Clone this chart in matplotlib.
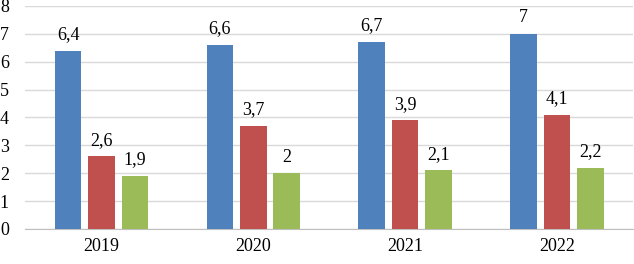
import numpy as np
import matplotlib.pyplot as plt

years = ["2019", "2020", "2021", "2022"]
blue_vals = [6.4, 6.6, 6.7, 7.0]
red_vals = [2.6, 3.7, 3.9, 4.1]
green_vals = [1.9, 2.0, 2.1, 2.2]

plt.rcParams['font.family'] = ['Liberation Serif', 'DejaVu Serif']


def fmt(v):
    s = f"{v:g}"
    return s.replace('.', ',')


fig = plt.figure(figsize=(6.34, 2.64), dpi=100)
ax = fig.add_axes([0.0402, 0.1326, 0.958, 0.845])

x = np.arange(len(years))
width = 0.175
step = 0.22
series = [(blue_vals, '#4F81BD'), (red_vals, '#C0504D'), (green_vals, '#9BBB59')]

for i, (vals, color) in enumerate(series):
    bars = ax.bar(x + (i - 1) * step, vals, width=width, color=color, zorder=3)
    for b, v in zip(bars, vals):
        ax.annotate(fmt(v), (b.get_x() + b.get_width() / 2, v), xytext=(0, 5.5),
                    textcoords='offset points', ha='center', va='bottom', fontsize=13)

ax.set_xlim(-0.5, 3.5)
ax.set_ylim(0, 8)
ax.set_yticks(range(0, 9))
ax.set_xticks(x)
ax.set_xticklabels(years)
ax.grid(axis='y', color='#D9D9D9', linewidth=1, zorder=0)
for s in ['top', 'right', 'left']:
    ax.spines[s].set_visible(False)
ax.spines['bottom'].set_color('#BFBFBF')
ax.tick_params(axis='both', length=0, labelsize=13)
ax.tick_params(axis='y', pad=12)
ax.tick_params(axis='x', pad=6.5)

fig.savefig('out.png', dpi=100)
